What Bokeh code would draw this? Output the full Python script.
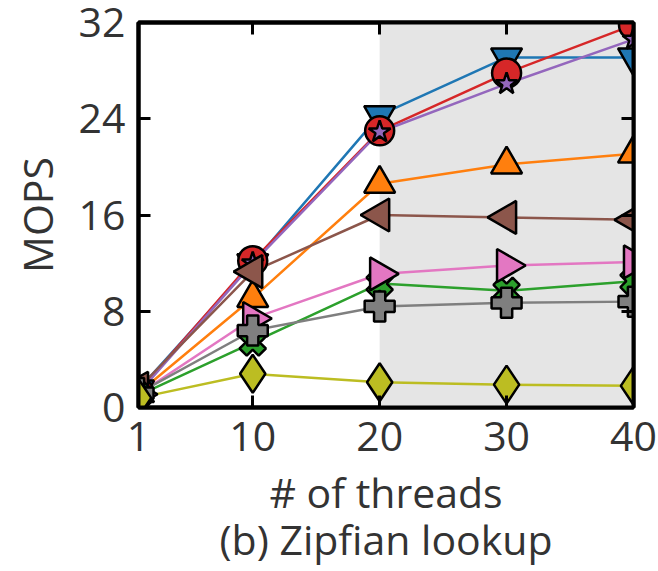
import numpy as np
from bokeh.plotting import figure
from bokeh.models import Range1d, FixedTicker, LinearAxis, BoxAnnotation
from bokeh.embed import file_html
from bokeh.resources import INLINE

threads = [1, 10, 20, 30, 40]
x_ticks = [1, 10, 20, 30, 40]
y_ticks = [0, 8, 16, 24, 32]

blue = [1.5, 12.0, 24.3, 29.1, 29.1]
red = [1.3, 12.2, 23.0, 27.8, 31.8]
purple = [1.2, 12.0, 22.9, 26.9, 30.6]
orange = [1.2, 9.1, 18.6, 20.2, 21.1]
brown = [1.6, 11.3, 16.0, 15.8, 15.6]
green = [1.0, 5.4, 10.3, 9.7, 10.5]
pink = [1.1, 7.4, 11.1, 11.8, 12.1]
gray = [1.2, 6.4, 8.4, 8.7, 8.8]
olive = [0.8, 2.8, 2.1, 1.9, 1.8]

FONT = "Open Sans"
TXT = "#333333"
FS = "41px"

p = figure(width=658, height=571, output_backend="svg", toolbar_location=None,
           x_range=Range1d(1, 40), y_range=Range1d(0, 32),
           min_border_left=138, min_border_right=25, min_border_top=22, min_border_bottom=164)
p.grid.visible = False
p.outline_line_color = "black"
p.outline_line_width = 4
p.background_fill_color = "white"

p.add_layout(BoxAnnotation(left=20, right=40, fill_color="#e5e5e5", fill_alpha=1.0,
                           line_color=None, level="underlay"))

series = [
    (blue, "#1f77b4", "inverted_triangle", 31, 0.0),
    (red, "#d62728", "circle", 29, 0.0),
    (purple, "#9467bd", "star", 23, 0.0),
    (orange, "#ff7f0e", "triangle", 31, 0.0),
    (brown, "#8c564b", "triangle", 33, np.pi / 2),
    (green, "#2ca02c", "plus", 27, np.pi / 4),
    (pink, "#e377c2", "triangle", 33, -np.pi / 2),
    (gray, "#7f7f7f", "plus", 30, 0.0),
    (olive, "#bcbd22", "diamond", 38, 0.0),
]
for ys, col, mk, sz, ang in series:
    p.line(threads, ys, line_color=col, line_width=2.5)
for ys, col, mk, sz, ang in series:
    p.scatter(threads, ys, marker=mk, size=sz, angle=ang, fill_color=col,
              line_color="black", line_width=2.5)

def style(ax, ticks, labels=True):
    ax.ticker = FixedTicker(ticks=ticks)
    ax.major_tick_in = 12
    ax.major_tick_out = 0
    ax.minor_tick_line_color = None
    ax.major_tick_line_width = 3
    ax.major_tick_line_color = "black"
    ax.axis_line_width = 4
    ax.axis_line_color = "black"
    ax.major_label_text_font = FONT
    ax.major_label_text_color = TXT
    if labels:
        ax.major_label_text_font_size = FS
    else:
        ax.major_label_overrides = {t: " " for t in ticks}
        ax.major_label_text_font_size = "1px"
        ax.major_label_standoff = 0

xa = p.xaxis[0]
ya = p.yaxis[0]
style(xa, x_ticks)
style(ya, y_ticks)
xa.major_label_standoff = 14
ya.major_label_standoff = 13
xa.axis_label = "# of threads\n(b) Zipfian lookup"
ya.axis_label = "MOPS"
for ax in (xa, ya):
    ax.axis_label_text_font = FONT
    ax.axis_label_text_font_size = FS
    ax.axis_label_text_font_style = "normal"
    ax.axis_label_text_color = TXT
xa.axis_label_text_line_height = 0.84
xa.axis_label_standoff = 10
ya.axis_label_standoff = 11

ra = LinearAxis()
style(ra, y_ticks, labels=False)
p.add_layout(ra, "right")
ta = LinearAxis()
style(ta, x_ticks, labels=False)
p.add_layout(ta, "above")

open("out.html", "w").write(file_html(p, INLINE))
